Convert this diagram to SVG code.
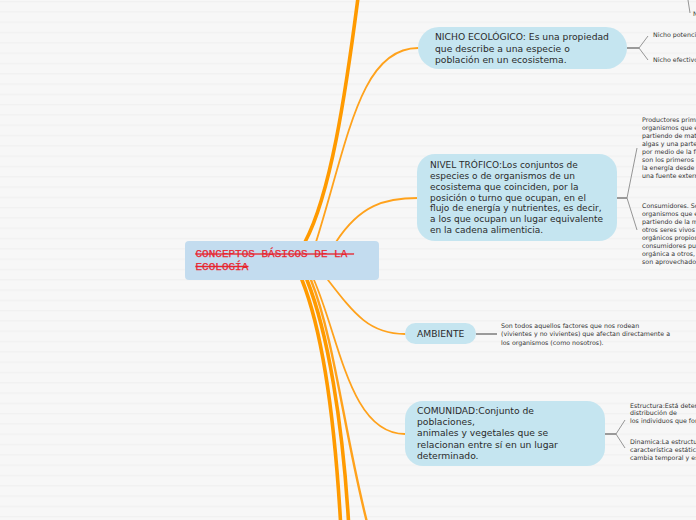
<svg xmlns="http://www.w3.org/2000/svg" width="696" height="520" viewBox="0 0 696 520">
<defs>
<pattern id="stripes" patternUnits="userSpaceOnUse" width="696" height="10.3">
<rect width="696" height="10.3" fill="#f7f7f7"/>
<rect y="1" width="696" height="1.2" fill="#f1f1f1"/>
</pattern>
</defs>
<style>
.node{fill:#c5e5f0}
.root{fill:#c3dcef}
.t{font-family:"DejaVu Sans",Verdana,sans-serif;fill:#2b2b2b}
.big{font-size:9.2px}
.mid{font-size:9px}
.sm{font-size:6.3px;fill:#333}
.rt{font-family:"Liberation Mono","Courier New",monospace;font-size:11px;fill:#e8262f;stroke:#e8262f;stroke-width:0.25;text-decoration:line-through}
.thick{fill:none;stroke:#ff9a00;stroke-width:3.6;stroke-linecap:round}
.thin{fill:none;stroke:#ffa21c;stroke-width:1.8;stroke-linecap:round}
.fork{fill:none;stroke:#8a8a8a;stroke-width:0.9}
.stub{fill:none;stroke:#9a9a9a;stroke-width:2}
</style>
<rect width="696" height="520" fill="url(#stripes)"/>

<g id="connectors">
<path class="thick" d="M305,242 C330,195 345,100 359,-10"/>
<path class="thin" d="M316,242 C348,140 360,48 418,48"/>
<path class="thin" d="M336,242 C360,205 385,198 418,198"/>
<path class="thin" d="M328,280 C355,315 370,334 405,334"/>
<path class="thin" d="M314,280 C340,340 350,434 405,434"/>
<path class="thick" d="M302,280 C322,330 335,420 341,530"/>
<path class="thick" d="M307,280 C327,330 343,420 349,530"/>
<path class="thin" style="stroke-width:2.4" d="M311,280 C335,340 345,440 369,530"/>
<path class="fork" d="M688,0 L690,13"/>
<path class="stub" d="M627,48 L639,48"/>
<path class="fork" d="M639,48 L648,36 M639,48 L648,60"/>
<path class="stub" d="M617,198 L627,198"/>
<path class="fork" d="M627,198 L637,148 M627,198 L637,230"/>
<path class="stub" d="M476,334 L497,334"/>
<path class="stub" d="M605,434 L616,434"/>
<path class="fork" d="M616,434 L625,420 M616,434 L625,448"/>
</g>

<g id="root">
<rect class="root" x="185" y="241" width="194" height="39" rx="4"/>
<text class="rt" x="195.5" y="257">CONCEPTOS BÁSICOS DE LA&#160;</text>
<text class="rt" x="195.5" y="269.5">ECOLOGÍA</text>
</g>

<g id="nicho">
<rect class="node" x="418" y="27" width="209" height="42" rx="21"/>
<text class="t big" x="435" y="40">NICHO ECOLÓGICO: Es una propiedad</text>
<text class="t big" x="435" y="51.5">que describe a una especie o</text>
<text class="t big" x="435" y="63">población en un ecosistema.</text>
</g>
<g id="nicho-potencial"><text class="t sm" x="653" y="37">Nicho potencial</text></g>
<g id="nicho-efectivo"><text class="t sm" x="653" y="62">Nicho efectivo</text></g>
<g id="top-item"><text class="t sm" x="693" y="16">N</text></g>

<g id="nivel">
<rect class="node" x="417" y="154" width="200" height="87" rx="18"/>
<text class="t mid" x="430" y="168">NIVEL TRÓFICO:Los conjuntos de</text>
<text class="t mid" x="430" y="179">especies o de organismos de un</text>
<text class="t mid" x="430" y="189.5">ecosistema que coinciden, por la</text>
<text class="t mid" x="430" y="200.5">posición o turno que ocupan, en el</text>
<text class="t mid" x="430" y="211">flujo de energía y nutrientes, es decir,</text>
<text class="t mid" x="430" y="222">a los que ocupan un lugar equivalente</text>
<text class="t mid" x="430" y="232.5">en la cadena alimenticia.</text>
</g>
<g id="productores">
<text class="t sm" x="642" y="121.5">Productores primarios</text>
<text class="t sm" x="642" y="129.5">organismos que elaboran</text>
<text class="t sm" x="642" y="137.5">partiendo de materia</text>
<text class="t sm" x="642" y="145.5">algas y una parte de</text>
<text class="t sm" x="642" y="153.5">por medio de la fotosíntesis</text>
<text class="t sm" x="642" y="161.5">son los primeros en</text>
<text class="t sm" x="642" y="169.5">la energía desde afuera</text>
<text class="t sm" x="642" y="177.5">una fuente externa</text>
</g>
<g id="consumidores">
<text class="t sm" x="642" y="207.5">Consumidores. Son</text>
<text class="t sm" x="642" y="215.5">organismos que elaboran</text>
<text class="t sm" x="642" y="223.5">partiendo de la materia</text>
<text class="t sm" x="642" y="231.5">otros seres vivos</text>
<text class="t sm" x="642" y="239.5">orgánicos propios</text>
<text class="t sm" x="642" y="247.5">consumidores pueden</text>
<text class="t sm" x="642" y="255.5">orgánica a otros,</text>
<text class="t sm" x="642" y="263.5">son aprovechados</text>
</g>

<g id="ambiente">
<rect class="node" x="405" y="323" width="71" height="21" rx="10.5"/>
<text class="t big" x="417" y="337">AMBIENTE</text>
</g>
<g id="ambiente-def">
<text class="t sm" x="501" y="327.5">Son todos aquellos factores que nos rodean</text>
<text class="t sm" x="501" y="336">(vivientes y no vivientes) que afectan directamente a</text>
<text class="t sm" x="501" y="344.5">los organismos (como nosotros).</text>
</g>

<g id="comunidad">
<rect class="node" x="405" y="401" width="200" height="65" rx="18"/>
<text class="t big" x="417" y="414">COMUNIDAD:Conjunto de</text>
<text class="t big" x="417" y="424.5">poblaciones,</text>
<text class="t big" x="417" y="436">animales y vegetales que se</text>
<text class="t big" x="417" y="447.5">relacionan entre sí en un lugar</text>
<text class="t big" x="417" y="458.5">determinado.</text>
</g>
<g id="estructura">
<text class="t sm" x="630" y="407.5">Estructura:Está determinada</text>
<text class="t sm" x="630" y="415">distribución de</text>
<text class="t sm" x="630" y="423">los individuos que forman</text>
</g>
<g id="dinamica">
<text class="t sm" x="630" y="444">Dinamica:La estructura</text>
<text class="t sm" x="630" y="451.5">característica estática</text>
<text class="t sm" x="630" y="459.5">cambia temporal y espacialmente</text>
</g>
</svg>
